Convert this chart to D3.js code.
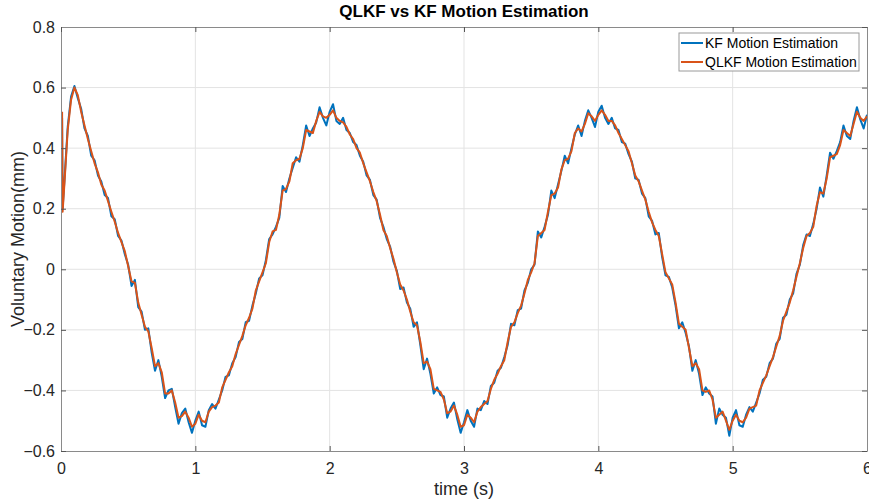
<!DOCTYPE html>
<html>
<head>
<meta charset="utf-8">
<script src="https://cdn.jsdelivr.net/npm/d3@7"></script>
<style>
  body { margin: 0; background: #fff; }
  svg { font-family: "Liberation Sans", Arial, sans-serif; }
  .tick text { font-size: 16px; fill: #262626; }
</style>
</head>
<body>
<script>
const width = 869;
const height = 503;
const margin = { top: 27, right: 2, bottom: 52, left: 61 };
const plotW = width - margin.left - margin.right;
const plotH = height - margin.top - margin.bottom;

const xTicks = [0, 1, 2, 3, 4, 5, 6];
const yTicks = [-0.6, -0.4, -0.2, 0, 0.2, 0.4, 0.6, 0.8];

// onset transient (filter start-up)
const onsetTime = [0.008, 0.012];
const onsetKF = [0.50, 0.20];
const onsetQLKF = [0.52, 0.19];

// samples every 0.025 s from t = 0.025 to t = 6.0
const sampleStep = 0.025;

const kfValues = [
  0.29, 0.47, 0.57, 0.605, 0.565, 0.53, 0.465, 0.44, 0.375, 0.36, 0.31, 0.29, 0.245, 0.235, 0.175, 0.165, 0.11, 0.095, 0.05, 0.015,
  -0.055, -0.035, -0.125, -0.14, -0.20, -0.195, -0.275, -0.335, -0.30, -0.355, -0.425, -0.40, -0.395, -0.455, -0.51, -0.475, -0.46, -0.505, -0.54, -0.50,
  -0.47, -0.515, -0.52, -0.465, -0.445, -0.46, -0.43, -0.40, -0.355, -0.35, -0.31, -0.29, -0.24, -0.23, -0.175, -0.17, -0.12, -0.08, -0.03, -0.02,
  0.03, 0.10, 0.115, 0.14, 0.17, 0.275, 0.255, 0.30, 0.335, 0.37, 0.355, 0.41, 0.475, 0.44, 0.465, 0.485, 0.535, 0.50, 0.475, 0.52,
  0.545, 0.49, 0.48, 0.50, 0.46, 0.45, 0.42, 0.41, 0.375, 0.355, 0.31, 0.295, 0.245, 0.23, 0.17, 0.14, 0.10, 0.075, 0.025, -0.005,
  -0.065, -0.06, -0.11, -0.13, -0.19, -0.175, -0.25, -0.33, -0.295, -0.345, -0.41, -0.39, -0.415, -0.42, -0.49, -0.46, -0.44, -0.495, -0.54, -0.505,
  -0.465, -0.50, -0.52, -0.46, -0.465, -0.435, -0.445, -0.385, -0.375, -0.335, -0.325, -0.29, -0.25, -0.18, -0.185, -0.135, -0.13, -0.07, -0.045, 0.0,
  0.015, 0.125, 0.105, 0.14, 0.18, 0.26, 0.235, 0.28, 0.325, 0.375, 0.35, 0.40, 0.445, 0.475, 0.44, 0.49, 0.525, 0.50, 0.47, 0.52,
  0.54, 0.50, 0.48, 0.50, 0.465, 0.46, 0.42, 0.415, 0.38, 0.355, 0.30, 0.295, 0.25, 0.235, 0.175, 0.16, 0.115, 0.12, 0.04, -0.02,
  -0.025, -0.06, -0.12, -0.195, -0.175, -0.21, -0.255, -0.335, -0.30, -0.345, -0.415, -0.39, -0.41, -0.42, -0.51, -0.46, -0.48, -0.49, -0.55, -0.49,
  -0.465, -0.515, -0.52, -0.48, -0.455, -0.47, -0.44, -0.41, -0.365, -0.355, -0.31, -0.295, -0.245, -0.23, -0.16, -0.15, -0.10, -0.08, -0.015, 0.015,
  0.08, 0.115, 0.11, 0.15, 0.20, 0.27, 0.24, 0.31, 0.385, 0.365, 0.39, 0.42, 0.475, 0.44, 0.43, 0.49, 0.535, 0.495, 0.465, 0.51
];

const qlkfValues = [
  0.28, 0.46, 0.56, 0.60, 0.575, 0.52, 0.475, 0.43, 0.39, 0.35, 0.32, 0.28, 0.26, 0.225, 0.19, 0.157, 0.12, 0.09, 0.06, 0.01,
  -0.04, -0.045, -0.11, -0.15, -0.19, -0.205, -0.26, -0.32, -0.31, -0.34, -0.41, -0.41, -0.40, -0.44, -0.49, -0.485, -0.47, -0.49, -0.52, -0.51,
  -0.48, -0.50, -0.505, -0.47, -0.455, -0.45, -0.44, -0.39, -0.365, -0.34, -0.32, -0.28, -0.25, -0.22, -0.185, -0.16, -0.13, -0.07, -0.04, -0.01,
  0.02, 0.09, 0.125, 0.13, 0.18, 0.26, 0.265, 0.29, 0.35, 0.36, 0.365, 0.40, 0.46, 0.455, 0.45, 0.49, 0.52, 0.505, 0.50, 0.51,
  0.525, 0.50, 0.49, 0.485, 0.47, 0.445, 0.43, 0.40, 0.385, 0.35, 0.32, 0.29, 0.255, 0.225, 0.18, 0.13, 0.11, 0.07, 0.035, -0.01,
  -0.05, -0.07, -0.10, -0.14, -0.175, -0.185, -0.24, -0.31, -0.305, -0.33, -0.395, -0.40, -0.405, -0.43, -0.475, -0.47, -0.45, -0.48, -0.52, -0.515,
  -0.48, -0.49, -0.505, -0.47, -0.455, -0.445, -0.435, -0.395, -0.365, -0.345, -0.32, -0.30, -0.24, -0.19, -0.175, -0.145, -0.12, -0.08, -0.035, -0.01,
  0.02, 0.11, 0.12, 0.13, 0.19, 0.245, 0.25, 0.27, 0.33, 0.36, 0.365, 0.39, 0.45, 0.465, 0.455, 0.48, 0.515, 0.505, 0.49, 0.51,
  0.525, 0.51, 0.49, 0.49, 0.475, 0.45, 0.43, 0.41, 0.39, 0.35, 0.31, 0.29, 0.26, 0.23, 0.19, 0.155, 0.13, 0.11, 0.05, -0.01,
  -0.03, -0.05, -0.11, -0.18, -0.19, -0.20, -0.26, -0.32, -0.31, -0.33, -0.40, -0.405, -0.40, -0.43, -0.49, -0.48, -0.47, -0.50, -0.53, -0.50,
  -0.48, -0.50, -0.505, -0.49, -0.46, -0.455, -0.45, -0.40, -0.375, -0.35, -0.32, -0.29, -0.255, -0.22, -0.17, -0.14, -0.11, -0.07, -0.025, 0.02,
  0.07, 0.11, 0.12, 0.14, 0.21, 0.255, 0.25, 0.30, 0.37, 0.375, 0.38, 0.41, 0.46, 0.45, 0.44, 0.48, 0.52, 0.50, 0.49, 0.505
];

const series = [
  { name: "KF Motion Estimation", color: "#0072BD", onset: onsetKF, values: kfValues },
  { name: "QLKF Motion Estimation", color: "#D95319", onset: onsetQLKF, values: qlkfValues }
];

function toPoints(s) {
  const pts = onsetTime.map((t, i) => [t, s.onset[i]]);
  s.values.forEach((v, i) => pts.push([(i + 1) * sampleStep, v]));
  return pts;
}

const svg = d3.select("body").append("svg")
  .attr("width", width)
  .attr("height", height);

const g = svg.append("g")
  .attr("transform", `translate(${margin.left},${margin.top})`);

const x = d3.scaleLinear().domain([0, 6]).range([0, plotW]);
const y = d3.scaleLinear().domain([-0.6, 0.8]).range([plotH, 0]);

// grid
g.append("g").selectAll("line")
  .data(xTicks.slice(1, -1))
  .enter().append("line")
  .attr("x1", d => x(d)).attr("x2", d => x(d))
  .attr("y1", 0).attr("y2", plotH)
  .attr("stroke", "#e3e3e3");

g.append("g").selectAll("line")
  .data(yTicks.slice(1, -1))
  .enter().append("line")
  .attr("x1", 0).attr("x2", plotW)
  .attr("y1", d => y(d)).attr("y2", d => y(d))
  .attr("stroke", "#e3e3e3");

// lines
const line = d3.line().x(d => x(d[0])).y(d => y(d[1]));
svg.append("clipPath").attr("id", "clip")
  .append("rect").attr("width", plotW).attr("height", plotH);

g.append("g").attr("clip-path", "url(#clip)")
  .selectAll("path")
  .data(series)
  .enter().append("path")
  .attr("d", d => line(toPoints(d)))
  .attr("fill", "none")
  .attr("stroke", d => d.color)
  .attr("stroke-width", 2)
  .attr("stroke-linejoin", "round");

// axes (box with inward ticks on all sides)
const axisColor = "#8a8a8a";
const xAxis = g.append("g")
  .attr("transform", `translate(0,${plotH})`)
  .call(d3.axisBottom(x).tickValues(xTicks).tickFormat(d3.format("d")).tickSizeInner(-5).tickSizeOuter(0).tickPadding(12));
const yAxis = g.append("g")
  .call(d3.axisLeft(y).tickValues(yTicks).tickFormat(d => d === 0 ? "0" : d3.format(".1f")(d)).tickSizeInner(-5).tickSizeOuter(0).tickPadding(6));
const xTop = g.append("g")
  .call(d3.axisTop(x).tickValues(xTicks).tickFormat("").tickSizeInner(-5).tickSizeOuter(0));
const yRight = g.append("g")
  .attr("transform", `translate(${plotW},0)`)
  .call(d3.axisRight(y).tickValues(yTicks).tickFormat("").tickSizeInner(-5).tickSizeOuter(0));

[xAxis, yAxis, xTop, yRight].forEach(a => {
  a.select(".domain").attr("stroke", axisColor);
  a.selectAll(".tick line").attr("stroke", "#555");
  a.selectAll(".tick text").attr("fill", "#262626");
});

// title and labels
svg.append("text")
  .attr("x", margin.left + plotW / 2)
  .attr("y", 17)
  .attr("text-anchor", "middle")
  .style("font-size", "17px")
  .style("font-weight", "bold")
  .attr("fill", "#000")
  .text("QLKF vs KF Motion Estimation");

svg.append("text")
  .attr("x", margin.left + plotW / 2)
  .attr("y", 495)
  .attr("text-anchor", "middle")
  .style("font-size", "18px")
  .attr("fill", "#262626")
  .text("time (s)");

svg.append("text")
  .attr("transform", `translate(24,${margin.top + plotH / 2}) rotate(-90)`)
  .attr("text-anchor", "middle")
  .style("font-size", "18px")
  .attr("fill", "#262626")
  .text("Voluntary Motion(mm)");

// legend
const legend = svg.append("g").attr("transform", "translate(679,33)");
legend.append("rect")
  .attr("width", 180).attr("height", 38)
  .attr("fill", "#fff")
  .attr("stroke", "#9a9a9a");
const items = legend.selectAll("g.item")
  .data(series)
  .enter().append("g")
  .attr("class", "item")
  .attr("transform", (d, i) => `translate(0,${10 + i * 19})`);
items.append("line")
  .attr("x1", 2).attr("x2", 24)
  .attr("stroke", d => d.color)
  .attr("stroke-width", 2);
items.append("text")
  .attr("x", 26)
  .attr("y", 5)
  .style("font-size", "14px")
  .attr("fill", "#000")
  .text(d => d.name);
</script>
</body>
</html>
